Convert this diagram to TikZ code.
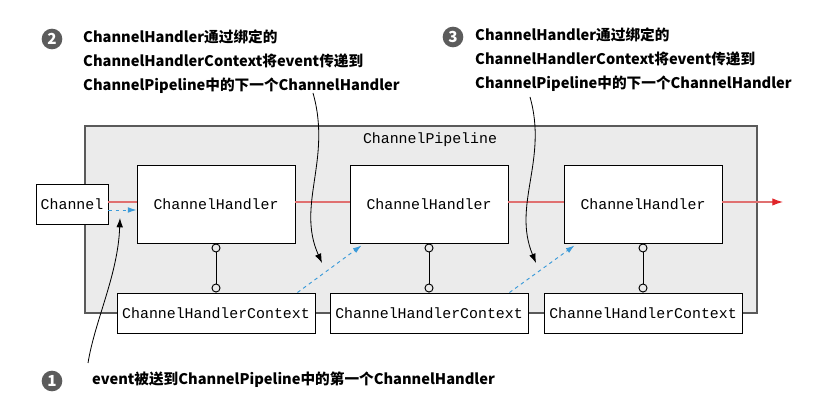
\documentclass[tikz,border=0pt]{standalone}
\usepackage{fontspec}
\setmonofont{Liberation Mono}
\newfontfamily\cjk{Noto Sans CJK SC}
\usetikzlibrary{arrows.meta}

\definecolor{pipefill}{HTML}{EBEBEB}
\definecolor{pipedraw}{HTML}{5A5A5A}
\definecolor{badgegray}{HTML}{5C5C5C}
\definecolor{evline}{HTML}{E07070}
\definecolor{evtip}{HTML}{E0252A}
\definecolor{ctxblue}{HTML}{3A9AD9}

\tikzset{
	box/.style={
		draw,
		fill=white,
		line width=0.8pt,
		inner sep=0pt,
		font=\ttfamily\fontsize{12.7}{14}\selectfont
	},
	handler/.style={box, minimum width=4.74cm, minimum height=2.34cm},
	context/.style={box, minimum width=5.94cm, minimum height=1.2cm},
	note/.style={
		anchor=west,
		align=left,
		inner sep=0pt,
		font=\cjk\bfseries\fontsize{12.5}{20.4}\selectfont
	},
	badge/.style={
		circle,
		fill=badgegray,
		text=white,
		inner sep=0pt,
		minimum size=0.62cm,
		font=\cjk\bfseries\fontsize{13}{13}\selectfont
	}
}

\begin{document}
\begin{tikzpicture}[
	x=0.03cm, y=-0.03cm,
	event/.style={evline, line width=0.9pt},
	passon/.style={ctxblue, dashed, line width=0.8pt, -{Latex[length=0.26cm,width=0.17cm]}},
	bind/.style={line width=0.8pt, {Circle[open,length=0.27cm]}-{Circle[open,length=0.27cm]}},
	hint/.style={line width=0.7pt, -{Latex[length=0.28cm,width=0.2cm]}}
]
\useasboundingbox (0,0) rectangle (838,403);

% pipeline
\node[draw=pipedraw, fill=pipefill, line width=1.2pt, minimum width=20.16cm, minimum height=5.61cm] (pipe) at (421,219.5) {};
\node[font=\ttfamily\fontsize{12.7}{14}\selectfont] (pipename) at (430,140) {ChannelPipeline};

\node[box, minimum width=2.16cm, minimum height=1.2cm] (chan) at (72,204) {Channel};

\node[handler] (h1) at (216,204) {ChannelHandler};
\node[handler] (h2) at (429,204) {ChannelHandler};
\node[handler] (h3) at (643,204) {ChannelHandler};

\node[context] (ctx1) at (216,313) {ChannelHandlerContext};
\node[context] (ctx2) at (429,313) {ChannelHandlerContext};
\node[context] (ctx3) at (643,313) {ChannelHandlerContext};

\coordinate (out) at (783,202);

% event flow
\draw[event] ([yshift=.06cm]chan.east) -- ([yshift=.06cm]h1.west);
\draw[event] ([yshift=.06cm]h1.east) -- ([yshift=.06cm]h2.west);
\draw[event] ([yshift=.06cm]h2.east) -- ([yshift=.06cm]h3.west);
\draw[event, -{Latex[evtip,length=0.32cm,width=0.22cm]}] ([yshift=.06cm]h3.east) -- (out);

\draw[bind] (h1.south) -- (ctx1.north);
\draw[bind] (h2.south) -- (ctx2.north);
\draw[bind] (h3.south) -- (ctx3.north);

\draw[passon] ([yshift=-.18cm]chan.east) -- ([yshift=-.18cm]h1.west);
\draw[passon] ([xshift=-.54cm]ctx1.north east) -- ([xshift=.36cm,yshift=-.06cm]h2.south west);
\draw[passon] ([xshift=-.57cm]ctx2.north east) -- ([xshift=.33cm,yshift=-.06cm]h3.south west);

% notes
\node[badge] (b2) at (52,39) {2};
\node[note] (n2) at (83,62) {ChannelHandler通过绑定的\\ChannelHandlerContext将event传递到\\ChannelPipeline中的下一个ChannelHandler};

\node[badge] (b3) at (453,37) {3};
\node[note] (n3) at (475,60) {ChannelHandler通过绑定的\\ChannelHandlerContext将event传递到\\ChannelPipeline中的下一个ChannelHandler};

\node[badge] (b1) at (52,381) {1};
\node[note] (n1) at (92,380) {event被送到ChannelPipeline中的第一个ChannelHandler};

\coordinate (s2) at (313,93);
\coordinate (e2) at (322,263);
\coordinate (s3) at (530,97);
\coordinate (e3) at (536,263);
\coordinate (s1) at (88,363);
\coordinate (e1) at (120,218);

\draw[hint] (s2) .. controls (332,160) and (296,205) .. (e2);
\draw[hint] (s3) .. controls (548,160) and (512,205) .. (e3);
\draw[hint] (s1) .. controls (95,320) and (118,275) .. (e1);

\end{tikzpicture}
\end{document}
